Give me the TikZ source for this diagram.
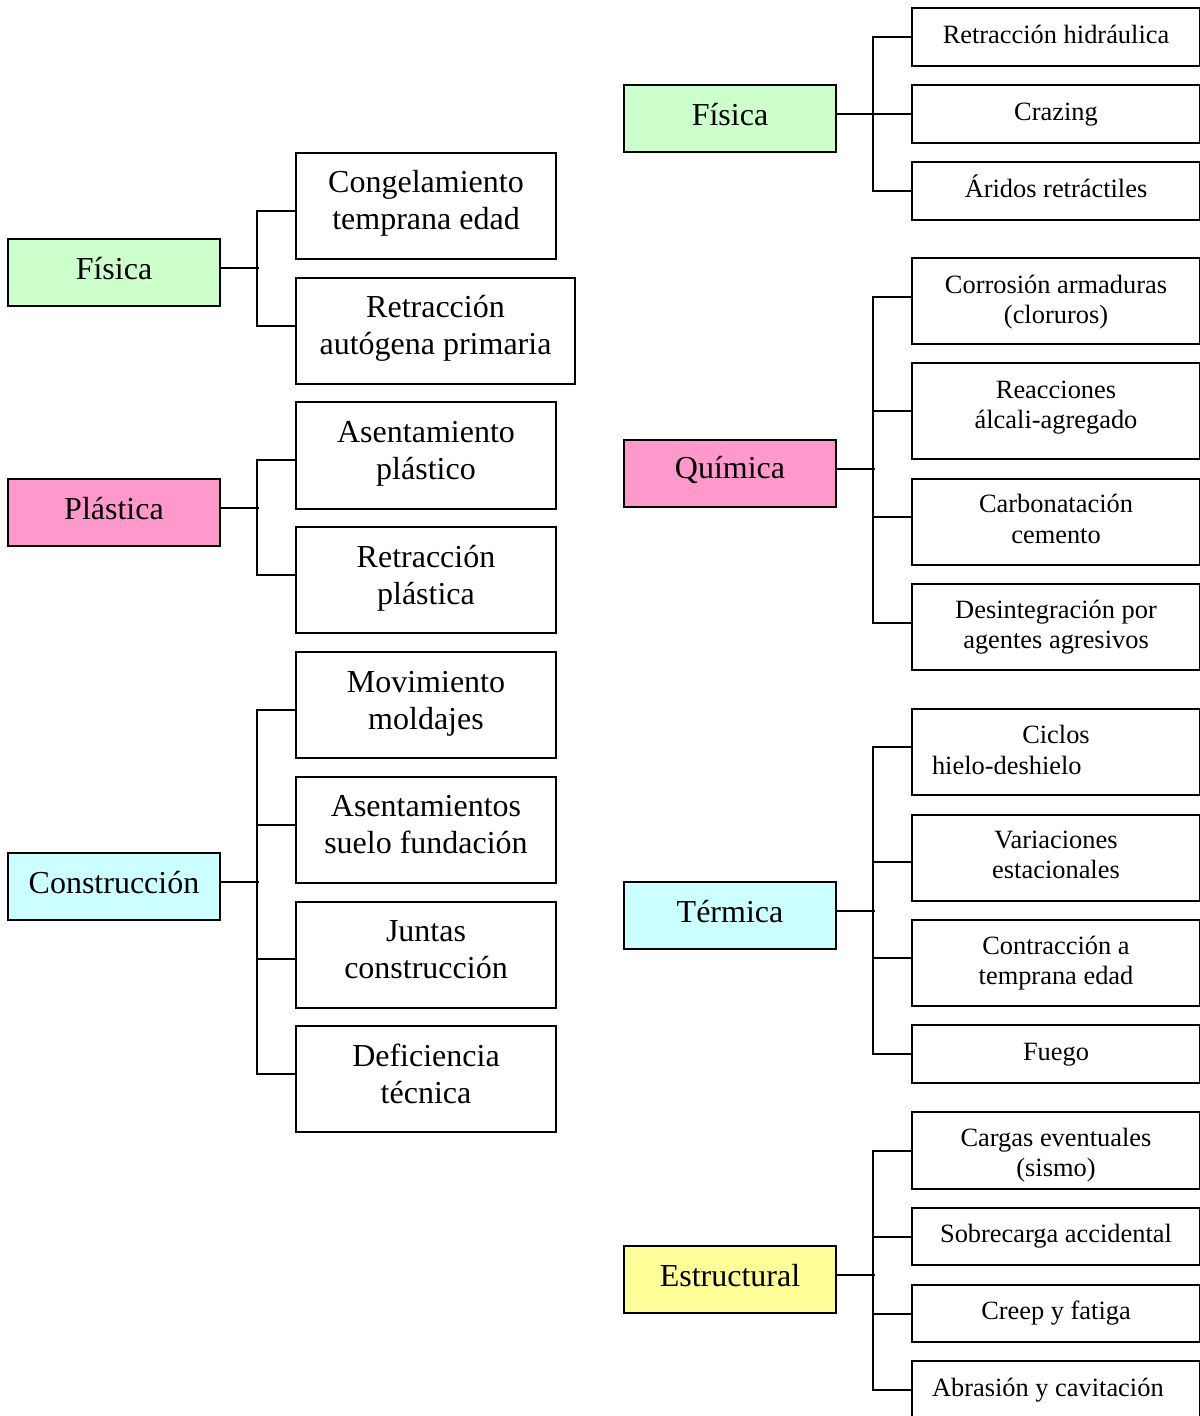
\documentclass[tikz,border=0pt]{standalone}
\usepackage{fontspec}
\setmainfont{Liberation Serif}
\definecolor{cgreen}{RGB}{204,255,204}
\definecolor{cpink}{RGB}{255,153,204}
\definecolor{ccyan}{RGB}{204,255,255}
\definecolor{cyellow}{RGB}{255,255,153}
\begin{document}
\begin{tikzpicture}[x=0.5pt,y=-0.5pt,
  hdr/.style={draw, line width=1pt, minimum width=106pt, minimum height=33.5pt, inner sep=0pt},
  lbox/.style={draw, line width=1pt, minimum width=130pt, minimum height=53pt, inner sep=0pt},
  rbox/.style={draw, line width=1pt, minimum width=144pt, inner sep=0pt},
  bt/.style={align=center, inner sep=0pt, font=\fontsize{16}{18.5}\selectfont},
  st/.style={align=center, inner sep=0pt, font=\fontsize{13.2}{15.1}\selectfont},
  link/.style={line width=1pt}]
\useasboundingbox (0,0) rectangle (1199,1416);

% ---------- left column ----------
\node[hdr, fill=cgreen, label={[bt, yshift=1.75pt]center:Física}] (hf) at (114,272.5) {};
\node[lbox, label={[bt, yshift=1.5pt]center:{Congelamiento\\temprana edad}}] (c11) at (426,206) {};
\node[lbox, minimum width=139.5pt, label={[bt, yshift=1.5pt]center:{Retracción\\autógena primaria}}] (c12) at (435.5,331) {};

\node[hdr, fill=cpink, label={[bt, yshift=1.75pt]center:Plástica}] (hp) at (114,512.5) {};
\node[lbox, label={[bt, yshift=1pt]center:{Asentamiento\\plástico}}] (c21) at (426,455.5) {};
\node[lbox, label={[bt, yshift=1pt]center:{Retracción\\plástica}}] (c22) at (426,580) {};

\node[hdr, fill=ccyan, label={[bt, yshift=1.75pt]center:Construcción}] (hc) at (114,886.5) {};
\node[lbox, label={[bt, yshift=0.5pt]center:{Movimiento\\moldajes}}] (c31) at (426,705) {};
\node[lbox, label={[bt, yshift=2.5pt]center:{Asentamientos\\suelo fundación}}] (c32) at (426,830) {};
\node[lbox, label={[bt, yshift=2.5pt]center:{Juntas\\construcción}}] (c33) at (426,954.5) {};
\node[lbox, label={[bt, yshift=2.5pt]center:{Deficiencia\\técnica}}] (c34) at (426,1079) {};

\draw[link] ([yshift=2.25pt]hf.east) -- ++(19pt,0);
\draw[link] ([yshift=-2.5pt]c11.west) -- ++(-19pt,0) |- ([yshift=2.5pt]c12.west);

\draw[link] ([yshift=2.25pt]hp.east) -- ++(19pt,0);
\draw[link] ([yshift=-2.5pt]c21.west) -- ++(-19pt,0) |- ([yshift=2.5pt]c22.west);

\draw[link] ([yshift=2.25pt]hc.east) -- ++(19pt,0);
\draw[link] ([yshift=-2.5pt]c31.west) -- ++(-19pt,0) |- ([yshift=2.5pt]c34.west);
\draw[link] ([yshift=2.5pt]c32.west) -- ++(-19pt,0);
\draw[link] ([yshift=-2.25pt]c33.west) -- ++(-19pt,0);

% ---------- right column ----------
\node[hdr, fill=cgreen, label={[bt, yshift=1.75pt]center:Física}] (rf) at (730,118.5) {};
\node[rbox, minimum height=29pt, label={[st, yshift=1.5pt]center:Retracción hidráulica}] (d11) at (1056,37) {};
\node[rbox, minimum height=29pt, label={[st, yshift=-0.5pt]center:Crazing}] (d12) at (1056,114) {};
\node[rbox, minimum height=29pt, label={[st, yshift=2.5pt]center:Áridos retráctiles}] (d13) at (1056,191) {};

\node[hdr, fill=cpink, label={[bt, yshift=1.75pt]center:Química}] (rq) at (730,473.5) {};
\node[rbox, minimum height=43pt, label={[st, yshift=-0.5pt]center:{Corrosión armaduras\\(cloruros)}}] (d21) at (1056,301) {};
\node[rbox, minimum height=48pt, label={[st, yshift=1.5pt]center:{Reacciones\\álcali-agregado}}] (d22) at (1056,411) {};
\node[rbox, minimum height=43pt, label={[st, yshift=1.5pt]center:{Carbonatación\\cemento}}] (d23) at (1056,522) {};
\node[rbox, minimum height=43pt, label={[st]center:{Desintegración por\\agentes agresivos}}] (d24) at (1056,627) {};

\node[hdr, fill=ccyan, label={[bt, yshift=1.75pt]center:Térmica}] (rt) at (730,915.5) {};
\node[rbox, minimum height=43pt, label={[st, yshift=1pt]center:{Ciclos\\\makebox[124pt][l]{hielo-deshielo}}}] (d31) at (1056,752) {};
\node[rbox, minimum height=43pt, label={[st, yshift=1.5pt]center:{Variaciones\\estacionales}}] (d32) at (1056,858) {};
\node[rbox, minimum height=43pt, label={[st]center:{Contracción a\\temprana edad}}] (d33) at (1056,963) {};
\node[rbox, minimum height=29pt, label={[st, yshift=-0.5pt]center:Fuego}] (d34) at (1056,1054) {};

\node[hdr, fill=cyellow, label={[bt, yshift=1.75pt]center:Estructural}] (re) at (730,1279.5) {};
\node[rbox, minimum height=38.5pt, label={[st, yshift=-2.5pt]center:{Cargas eventuales\\(sismo)}}] (d41) at (1056,1150.5) {};
\node[rbox, minimum height=28.5pt, label={[st]center:Sobrecarga accidental}] (d42) at (1056,1236.5) {};
\node[rbox, minimum height=28.5pt, label={[st]center:Creep y fatiga}] (d43) at (1056,1313.5) {};
\node[rbox, minimum height=29pt, label={[st]center:\makebox[124pt][l]{Abrasión y cavitación}}] (d44) at (1056,1390) {};

\draw[link] ([yshift=2.25pt]rf.east) -- ++(19pt,0);
\draw[link] (d11.west) -- ++(-19pt,0) |- (d13.west);
\draw[link] (d12.west) -- ++(-19pt,0);

\draw[link] ([yshift=2.25pt]rq.east) -- ++(19pt,0);
\draw[link] ([yshift=2pt]d21.west) -- ++(-19pt,0) |- ([yshift=2pt]d24.west);
\draw[link] (d22.west) -- ++(-19pt,0);
\draw[link] ([yshift=2.5pt]d23.west) -- ++(-19pt,0);

\draw[link] ([yshift=2.25pt]rt.east) -- ++(19pt,0);
\draw[link] ([yshift=2.5pt]d31.west) -- ++(-19pt,0) |- (d34.west);
\draw[link] ([yshift=-2pt]d32.west) -- ++(-19pt,0);
\draw[link] ([yshift=2.5pt]d33.west) -- ++(-19pt,0);

\draw[link] ([yshift=2.25pt]re.east) -- ++(19pt,0);
\draw[link] (d41.west) -- ++(-19pt,0) |- (d44.west);
\draw[link] (d42.west) -- ++(-19pt,0);
\draw[link] (d43.west) -- ++(-19pt,0);
\end{tikzpicture}
\end{document}
